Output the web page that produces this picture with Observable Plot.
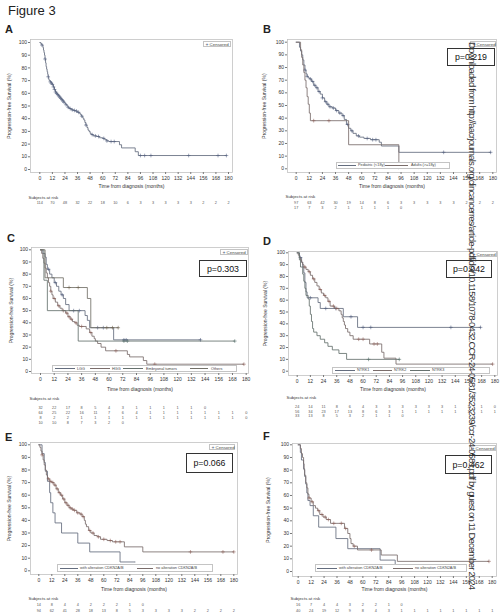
<!DOCTYPE html>
<html>
<head>
<meta charset="utf-8">
<script src="https://cdn.jsdelivr.net/npm/d3@7"></script>
<script src="https://cdn.jsdelivr.net/npm/@observablehq/plot@0.6"></script>
<style>
  body { margin: 0; background: #fff; }
  #fig { position: relative; width: 500px; height: 616px; overflow: hidden; font-family: "Liberation Sans", Arial, sans-serif; color: #222; background: #fff; }
  #fig > * { position: absolute; }
  .title { font-size: 13px; line-height: 13px; }
  .letter { font-size: 11px; line-height: 11px; font-weight: bold; }
  .pbox { border: 1px solid #333; background: #fff; font-size: 8.8px; display: flex; align-items: center; justify-content: center; box-sizing: border-box; color: #111; }
  .cens { border: 0.6px solid #c4c4c4; background: #fff; box-sizing: border-box; font-size: 4.4px; line-height: 5px; color: #444; white-space: nowrap; display: flex; align-items: center; padding-left: 1.5px; }
  .leg { border: 0.6px solid #c4c4c4; box-sizing: border-box; background: #fff; }
  .legtxt { font-size: 3.8px; line-height: 4px; color: #444; white-space: nowrap; }
  .legline { height: 0.8px; }
</style>
</head>
<body>
<div id="fig"></div>
<script>
// ---------- shared tick values ----------
const timeTicks = [0, 12, 24, 36, 48, 60, 72, 84, 96, 108, 120, 132, 144, 156, 168, 180];
const survTicks = [0, 10, 20, 30, 40, 50, 60, 70, 80, 90, 100];

// ---------- Panel A : all patients ----------
const aTime = [0,1,2,3,3.5,4,4.5,5,5.5,6,6.5,7,7.5,8,8.5,9,10,11,12,13,14,15,16,17,18,19,20,21,22,23,24,25,26,27,28,30,32,34,36,38,39,40,41,42,43,44,45,46,47,48,49,51,54,57,60,62,64,66,76,78,91,94];
const aSurv = [100,99,98,96,94,92,90,87,84,81,79,77,75,73,71,70,69,68,67,65,63,61,60,59,58,57,56,55,54,53,52,51,50,49,48,47,46.5,46,45,44,43,42,40.5,39,37,35,33,31,30,28.5,27.5,26.5,26,25,24.5,23.5,22.5,22,19.5,17,14,11];
const aCens = [2,5,8,10,11,12,13,14,15,16,17,18,19,20,21,22,23,25,27,29,31,33,35,37,40,44,50,53,56,61,64,68,71,96,100,106,142,170,178];
const aEnd = 178;
const aRisk = [114,70,48,32,22,18,10,6,3,3,3,3,3,2,2,2];

// ---------- Panel B : Pediatric vs Adults ----------
const bLabels = ["Pediatric (<18y)", "Adults (>=18y)"];
const bPedTime = [0,3,4,5,6,7,8,9,10,11,12,14,16,18,20,22,24,26,28,30,33,36,39,42,44,46,48,50,52,55,58,62,68,76,78,94];
const bPedSurv = [100,96,93,90,86,82,78,75,73,72,71,69,66,64,61,59,56,53,51,49,48,46,44,42,39,35,32,30,28,26,25,24,23,21,18,13];
const bPedCens = [8,10,13,15,17,19,21,24,27,29,31,34,37,40,43,47,51,57,65,70,73,135,178];
const bPedEnd = 178;
const bAduTime = [0,4,5,6,7,8,9,10,11,12,13,48,94];
const bAduSurv = [100,94,88,82,76,70,64,57,51,44,38,19,0];
const bAduCens = [16,30];
const bAduEnd = 94;
const bRiskPed = [97,63,42,30,19,14,8,6,3,3,3,3,3,2,2,2];
const bRiskAdu = [17,7,3,2,1,1,1,1,0];

// ---------- Panel C : histology ----------
const cLabels = ["LGG", "HGG", "Embryonal tumors", "Others"];
const cLggTime = [0,2,4,5,6,8,10,12,14,16,18,20,22,25,39,41,43,64];
const cLggSurv = [100,97,94,88,84,80,77,73,70,66,63,60,55,50,46,42,36,26];
const cLggCens = [7,13,19,29,34,50,55,73,75,140];
const cLggEnd = 140;
const cHggTime = [0,1,2,3,4,5,6,7,8,9,10,11,13,15,17,19,22,24,26,28,30,32,34,40,43,45,47,48,50,53,57,76,78,90,93];
const cHggSurv = [100,97,93,89,85,81,77,73,70,66,63,60,57,54,52,50,48,45,43,41,40,38,37,35,32,29,27,25,23,20,17,14,12,9,6];
const cHggCens = [9,12,16,20,23,25,27,31,36,44,66,100,178];
const cHggEnd = 178;
const cEmbTime = [0,3,6,33];
const cEmbSurv = [100,75,50,25];
const cEmbCens = [73,76,170];
const cEmbEnd = 170;
const cOthTime = [0,4,20,41,44];
const cOthSurv = [100,77,69,60,36];
const cOthCens = [25,33,58,63,68];
const cOthEnd = 68;
const cRiskLgg = [32,22,17,8,5,4,3,1,1,1,1,1,0];
const cRiskHgg = [64,25,22,16,11,7,6,4,1,1,1,1,1,1,1,0];
const cRiskEmb = [8,2,2,1,1,1,1,1,1,1,1,1,1,1,1,0];
const cRiskOth = [10,10,8,7,3,2,0];

// ---------- Panel D : NTRK gene ----------
const dLabels = ["NTRK1", "NTRK2", "NTRK3"];
const dN1Time = [0,2,4,5,6,7,8,9,19,21,42,55];
const dN1Surv = [100,96,92,88,83,75,67,62,58,53,46,37];
const dN1Cens = [3,12,26,35,49,60,67,140,167];
const dN1End = 167;
const dN2Time = [0,1,2,3,4,5,6,8,10,12,14,16,18,20,22,24,26,28,30,34,38,40,41,42,43,44,46,48,51,66,77,79,90];
const dN2Surv = [100,98,96,94,92,90,88,86,84,81,78,75,72,69,66,64,62,59,55,53,51,48,45,42,39,36,33,30,27,23,16,11,6];
const dN2Cens = [7,11,15,21,25,29,33,36,56,60,70,73,178];
const dN2End = 178;
const dN3Time = [0,2,3,5,6,7,8,10,11,12,13,14,15,18,21,25,28,32,38,45];
const dN3Surv = [100,94,88,82,76,70,64,61,55,48,42,36,33,30,27,24,21,18,15,10];
const dN3Cens = [65,93];
const dN3End = 93;
const dRiskN1 = [24,14,11,8,6,4,3,3,3,3,3,3,1,1,1,0];
const dRiskN2 = [56,34,23,17,13,8,6,3,1,1,1,1,1,1,1,1];
const dRiskN3 = [33,13,8,5,3,2,1,1,0];

// ---------- Panel E : CDKN2A/B ----------
const eLabels = ["with alteration CDKN2A/B", "no alteration CDKN2A/B"];
const eWithTime = [0,3,5,6,8,10,11,13,15,21,36,47,75];
const eWithSurv = [100,93,86,79,71,62,54,46,38,30,22,15,7];
const eWithCens = [];
const eWithEnd = 89;
const eNoTime = [0,1,2,3,4,5,6,7,8,10,12,14,16,18,20,22,24,26,28,30,32,35,38,40,42,43,44,46,48,51,54,57,63,68,79,96];
const eNoSurv = [100,98,95,92,88,84,80,76,73,71,70,68,65,62,60,57,54,52,50,49,48,46,45,43,40,37,35,32,30,28,27,25,24,23,19,15];
const eNoCens = [3,9,11,13,15,17,19,21,23,25,27,29,31,33,36,39,41,47,50,55,60,66,71,75,140,170,180];
const eNoEnd = 180;
const eRiskWith = [14,8,4,4,2,2,2,1,0];
const eRiskNo = [94,62,41,28,18,13,8,5,3,3,3,3,2,2,2,2];

// ---------- Panel F : CDKN2A/B (subset) ----------
const fLabels = ["with alteration CDKN2A/B", "no alteration CDKN2A/B"];
const fWithTime = [0,2,3,5,6,7,8,9,11,14,19,35,46,76,90];
const fWithSurv = [100,94,88,81,75,69,62,56,52,44,35,26,18,9,0];
const fWithCens = [];
const fWithEnd = 90;
const fNoTime = [0,2,3,4,5,5.5,6,7,8,9,10,12,14,16,18,20,23,26,30,43,46,48,49,51,55,77,92];
const fNoSurv = [100,97,93,90,85,80,76,70,66,61,58,55,52,50,48,45,43,41,38,34,30,26,22,20,17,13,8];
const fNoCens = [10,13,19,22,25,28,33,40,44,52,68,177];
const fNoEnd = 177;
const fRiskWith = [16,7,4,4,3,2,2,1,0];
const fRiskNo = [40,24,19,12,9,8,4,3,1,1,1,1,1,1,1,1];

const pValues = { B: "p=0.219", C: "p=0.303", D: "p=0.042", E: "p=0.066", F: "p=0.462" };

// ---------- styles ----------
const lineColors = ["#646d7e", "#7a6d6b", "#66716e", "#727068"];
const markColors = ["#4f5b7c", "#8c5e57", "#4f6a64", "#6d604c"];
const FONT = "Liberation Sans, Arial, sans-serif";

// ---------- helpers ----------
function kmSteps(times, survs, end) {
  const pts = times.map((t, i) => ({ t, s: survs[i] }));
  pts.push({ t: end, s: survs[survs.length - 1] });
  return pts;
}
function survAt(times, survs, t) {
  let s = survs[0];
  for (let i = 0; i < times.length; i++) if (times[i] <= t) s = survs[i];
  return s;
}
function censPoints(times, survs, cens) {
  return cens.map(t => ({ t, s: survAt(times, survs, t) }));
}
function ser(times, survs, cens, end, c) { return { times, survs, cens, end, c }; }

const panels = [
  { id: "A", letter: [5, 23.6], svg: { left: 0, top: 30, w: 250, h: 162 }, frame: { L: 30, R: 232, T: 39, B: 172 },
    xin: [9.3, 4], yin: [3, 3], ylo: 22.7, xlo: 15.5,
    series: [ser(aTime, aSurv, aCens, aEnd, 0)],
    risk: { top: 194.5, h: 12, r0: 7.5, step: 5, rows: [aRisk] },
    cens: [203, 41, 231, 47], pbox: null, legend: null },
  { id: "B", letter: [263, 23.6], svg: { left: 250, top: 30, w: 250, h: 162 }, frame: { L: 287, R: 496, T: 39, B: 172 },
    xin: [8.7, 3.7], yin: [2.7, 3.7], ylo: 25, xlo: 15.5,
    series: [ser(bPedTime, bPedSurv, bPedCens, bPedEnd, 0), ser(bAduTime, bAduSurv, bAduCens, bAduEnd, 1)],
    risk: { top: 193.5, h: 16, r0: 8.5, step: 4.3, rows: [bRiskPed, bRiskAdu] },
    cens: [470, 41, 496, 47], pbox: [447, 48, 495, 66],
    legend: { box: [336, 162, 450, 168.5], items: [[338, 18, 358, bLabels[0], 0], [385, 23, 411, bLabels[1], 1]] } },
  { id: "C", letter: [7, 232.6], svg: { left: 0, top: 237, w: 250, h: 160 }, frame: { L: 31, R: 248, T: 247, B: 373 },
    xin: [9, 2.3], yin: [2.3, 2], ylo: 22, xlo: 17.5,
    series: [ser(cLggTime, cLggSurv, cLggCens, cLggEnd, 0), ser(cHggTime, cHggSurv, cHggCens, cHggEnd, 1),
             ser(cEmbTime, cEmbSurv, cEmbCens, cEmbEnd, 2), ser(cOthTime, cOthSurv, cOthCens, cOthEnd, 3)],
    risk: { top: 395.5, h: 28, r0: 10.8, step: 5, rows: [cRiskLgg, cRiskHgg, cRiskEmb, cRiskOth] },
    cens: [220, 249, 248, 255], pbox: [199, 260, 247, 277],
    legend: { box: [52, 365, 237, 372], items: [[55, 20, 77, cLabels[0], 0], [90, 20, 112, cLabels[1], 1], [123, 20, 146, cLabels[2], 2], [190, 18, 211, cLabels[3], 3]] } },
  { id: "D", letter: [263, 235.6], svg: { left: 250, top: 240, w: 250, h: 160 }, frame: { L: 288, R: 497, T: 251, B: 375 },
    xin: [8.7, 2.7], yin: [1.3, 4.3], ylo: 25, xlo: 15.5,
    series: [ser(dN1Time, dN1Surv, dN1Cens, dN1End, 0), ser(dN2Time, dN2Surv, dN2Cens, dN2End, 1), ser(dN3Time, dN3Surv, dN3Cens, dN3End, 2)],
    risk: { top: 394.5, h: 24, r0: 11.5, step: 4.5, rows: [dRiskN1, dRiskN2, dRiskN3] },
    cens: [470, 251, 497, 257], pbox: [446, 260, 492, 278],
    legend: { box: [332, 367, 490, 373.5], items: [[335, 20, 357, dLabels[0], 0], [373, 19, 394, dLabels[1], 1], [410, 20, 432, dLabels[2], 2]] } },
  { id: "E", letter: [5, 431.6], svg: { left: 0, top: 432, w: 250, h: 162 }, frame: { L: 30, R: 237, T: 442, B: 574 },
    xin: [8.3, 3.7], yin: [2.3, 3.7], ylo: 22.7, xlo: 16.5,
    series: [ser(eWithTime, eWithSurv, eWithCens, eWithEnd, 0), ser(eNoTime, eNoSurv, eNoCens, eNoEnd, 1)],
    risk: { top: 595.5, h: 20, r0: 8.5, step: 6, rows: [eRiskWith, eRiskNo] },
    cens: [209, 444, 235, 450], pbox: [186, 453, 233, 473],
    legend: { box: [57, 564, 213, 572], items: [[60, 18, 80, eLabels[0], 0], [137, 16, 156, eLabels[1], 1]] } },
  { id: "F", letter: [263, 430.6], svg: { left: 250, top: 432, w: 250, h: 162 }, frame: { L: 292, R: 496, T: 443, B: 576 },
    xin: [5.7, 4.3], yin: [1.3, 5], ylo: 26.5, xlo: 14.5,
    series: [ser(fWithTime, fWithSurv, fWithCens, fWithEnd, 0), ser(fNoTime, fNoSurv, fNoCens, fNoEnd, 1)],
    risk: { top: 595.5, h: 20, r0: 8.5, step: 6, rows: [fRiskWith, fRiskNo] },
    cens: [469, 445, 496, 451], pbox: [445, 455, 492, 474],
    legend: { box: [315, 564, 467, 572], items: [[317, 20, 339, fLabels[0], 0], [393, 20, 415, fLabels[1], 1]] } }
];

const fig = document.getElementById("fig");
function place(node, left, top) {
  node.style.left = left + "px";
  node.style.top = top + "px";
  fig.appendChild(node);
  return node;
}
function div(cls, html) {
  const d = document.createElement("div");
  if (cls) d.className = cls;
  if (html != null) d.innerHTML = html;
  return d;
}

place(div("title", "Figure 3"), 8, 4);

function margins(p) {
  return {
    marginLeft: p.frame.L - p.svg.left,
    marginRight: p.svg.left + p.svg.w - p.frame.R,
    marginTop: p.frame.T - p.svg.top,
    marginBottom: p.svg.top + p.svg.h - p.frame.B
  };
}

function mainPlot(p) {
  const m = margins(p);
  const marks = [Plot.frame({ stroke: "#c2c2c2", strokeWidth: 0.8 })];
  p.series.forEach(s => {
    marks.push(Plot.line(kmSteps(s.times, s.survs, s.end), { x: "t", y: "s", curve: "step-after", stroke: lineColors[s.c], strokeWidth: 0.85 }));
    marks.push(Plot.dot(censPoints(s.times, s.survs, s.cens), { x: "t", y: "s", symbol: "plus", r: 1.3, stroke: markColors[s.c], strokeWidth: 0.55 }));
  });
  marks.push(
    Plot.axisX({ ticks: timeTicks, tickFormat: d => String(d), tickSize: 2, tickPadding: 1.5, fontSize: 5, stroke: "#777", fill: "#333",
      label: "Time from diagnosis (months)", labelAnchor: "center", labelArrow: "none", labelOffset: p.xlo }),
    Plot.axisY({ ticks: survTicks, tickFormat: d => String(d), tickSize: 2, tickPadding: 1.5, fontSize: 5, stroke: "#777", fill: "#333",
      label: "Progression-free Survival (%)", labelAnchor: "center", labelArrow: "none", labelOffset: p.ylo })
  );
  return Plot.plot({
    width: p.svg.w, height: p.svg.h, ...m,
    x: { domain: [0, 180], insetLeft: p.xin[0], insetRight: p.xin[1] },
    y: { domain: [0, 100], insetTop: p.yin[0], insetBottom: p.yin[1] },
    style: { fontFamily: FONT, background: "transparent", overflow: "visible" },
    marks
  });
}

function riskPlot(p) {
  const m = margins(p);
  const rows = p.risk.rows;
  const data = rows.flatMap((r, i) => r.map((v, j) => ({ t: timeTicks[j], row: i, v })));
  const span = Math.max(1, rows.length - 1);
  return Plot.plot({
    width: p.svg.w, height: p.risk.h,
    marginLeft: m.marginLeft, marginRight: m.marginRight, marginTop: 0, marginBottom: 0,
    x: { domain: [0, 180], insetLeft: p.xin[0], insetRight: p.xin[1], axis: null },
    y: { domain: [0, span], range: [p.risk.r0, p.risk.r0 + p.risk.step * span], axis: null },
    style: { fontFamily: FONT, background: "transparent", overflow: "visible" },
    marks: [
      Plot.text(["Subjects at risk"], { text: d => d, frameAnchor: "top-left", dx: -2, textAnchor: "start", lineAnchor: "top", fontSize: 4.4, fill: "#333" }),
      Plot.text(data, { x: "t", y: "row", text: "v", fontSize: 3.8, fill: "#555" })
    ]
  });
}

panels.forEach(p => {
  place(mainPlot(p), p.svg.left, p.svg.top);
  place(riskPlot(p), p.svg.left, p.risk.top);
  place(div("letter", p.id), p.letter[0], p.letter[1]);
  // censored legend
  const [cx0, cy0, cx1, cy1] = p.cens;
  const c = place(div("cens", `<span style="font-size:5px;margin-right:1.2px;color:${markColors[0]}">+</span>Censored`), cx0, cy0);
  c.style.width = (cx1 - cx0) + "px"; c.style.height = (cy1 - cy0) + "px";
  if (p.pbox) {
    const [x0, y0, x1, y1] = p.pbox;
    const b = place(div("pbox", pValues[p.id]), x0, y0);
    b.style.width = (x1 - x0) + "px"; b.style.height = (y1 - y0) + "px";
  }
  if (p.legend) {
    const [x0, y0, x1, y1] = p.legend.box;
    const lb = place(div("leg"), x0, y0);
    lb.style.width = (x1 - x0) + "px"; lb.style.height = (y1 - y0) + "px";
    const yc = (y0 + y1) / 2;
    p.legend.items.forEach(([sx, sw, lx, label, ci]) => {
      const ln = place(div("legline"), sx, yc - 0.4);
      ln.style.width = sw + "px"; ln.style.background = lineColors[ci];
      place(div("legtxt", label.replace(/</g, "&lt;")), lx, yc - 2);
    });
  }
});

// watermark (vertical text)
const wm = d3.create("svg").attr("width", 500).attr("height", 616).style("left", "0px").style("top", "0px").style("pointer-events", "none");
wm.append("text")
  .attr("transform", "translate(469,42) rotate(90)")
  .attr("font-family", FONT).attr("font-size", 9.5).attr("fill", "#333")
  .attr("textLength", 548).attr("lengthAdjust", "spacing")
  .text("Downloaded from http://aacrjournals.org/clincancerres/article-pdf/doi/10.1158/1078-0432.CCR-24-0581/3523239/ccr-24-0581.pdf by guest on 11 December 2024");
fig.appendChild(wm.node());
</script>
</body>
</html>
